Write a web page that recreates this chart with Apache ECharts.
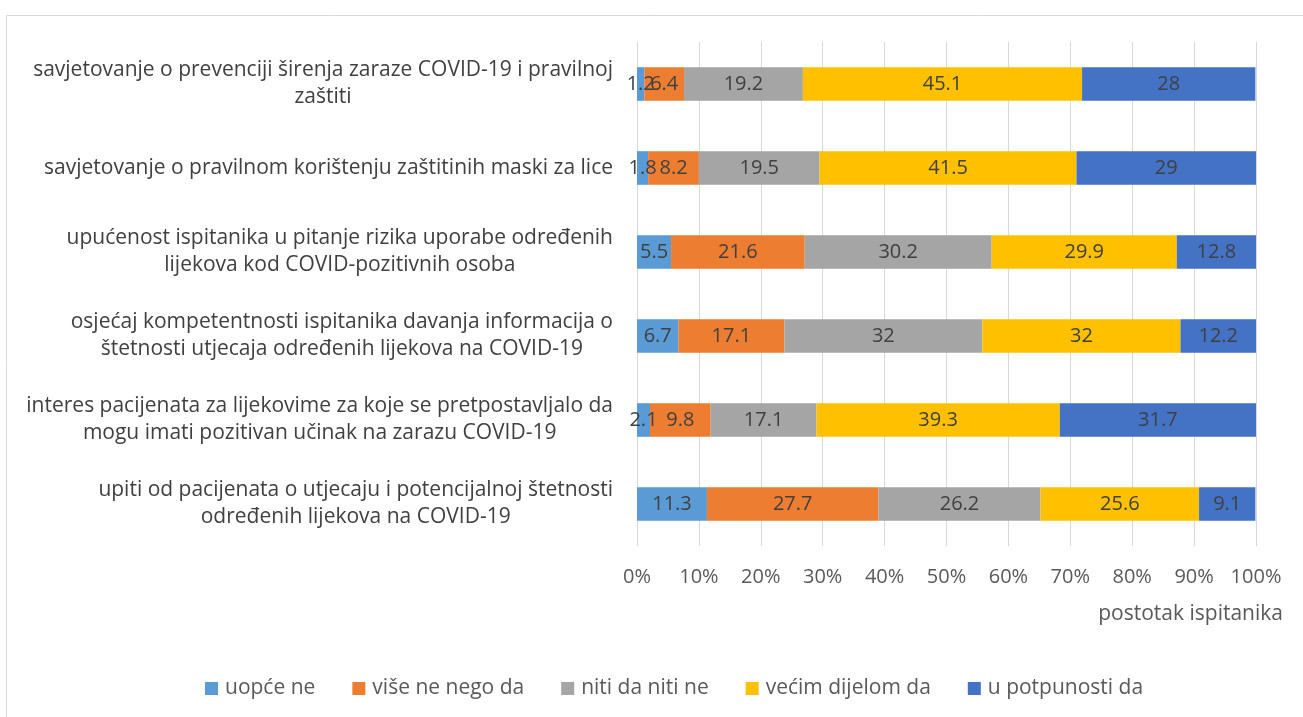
<!DOCTYPE html>
<html>
<head>
<meta charset="utf-8">
<script src="https://cdn.jsdelivr.net/npm/echarts@6/dist/echarts.min.js"></script>
<style>
  html, body { margin: 0; padding: 0; background: #fff; }
  #chart { width: 1303px; height: 717px; }
</style>
</head>
<body>
<div id="chart"></div>
<script>
// kategorije odozgo prema dolje
const categories = [
  'savjetovanje o prevenciji širenja zaraze COVID-19 i pravilnoj\nzaštiti',
  'savjetovanje o pravilnom korištenju zaštitinih maski za lice',
  'upućenost ispitanika u pitanje rizika uporabe određenih\nlijekova kod COVID-pozitivnih osoba',
  'osjećaj kompetentnosti ispitanika davanja informacija o\nštetnosti utjecaja određenih lijekova na COVID-19',
  'interes pacijenata za lijekovime za koje se pretpostavljalo da\nmogu imati pozitivan učinak na zarazu COVID-19',
  'upiti od pacijenata o utjecaju i potencijalnoj štetnosti\nodređenih lijekova na COVID-19'
];
const seriesNames = ['uopće ne', 'više ne nego da', 'niti da niti ne', 'većim dijelom da', 'u potpunosti da'];
const uopceNe = [1.2, 1.8, 5.5, 6.7, 2.1, 11.3];
const viseNeNegoDa = [6.4, 8.2, 21.6, 17.1, 9.8, 27.7];
const nitiDaNitiNe = [19.2, 19.5, 30.2, 32, 17.1, 26.2];
const vecimDijelomDa = [45.1, 41.5, 29.9, 32, 39.3, 25.6];
const uPotpunostiDa = [28, 29, 12.8, 12.2, 31.7, 9.1];
const xTicks = [0, 10, 20, 30, 40, 50, 60, 70, 80, 90, 100];

const colors = ['#5B9BD5', '#ED7D31', '#A5A5A5', '#FFC000', '#4472C4'];
const font = '"Open Sans", "Noto Sans", sans-serif';
const values = [uopceNe, viseNeNegoDa, nitiDaNitiNe, vecimDijelomDa, uPotpunostiDa];

const chart = echarts.init(document.getElementById('chart'));

const option = {
  color: colors,
  animation: false,
  textStyle: { fontFamily: font },
  graphic: [{
    type: 'rect',
    left: 4,
    top: 13,
    shape: { width: 1330, height: 740 },
    style: { fill: 'none', stroke: '#d9d9d9', lineWidth: 1 },
    silent: true
  }],
  grid: { left: 637, right: 47, top: 42, bottom: 171 },
  legend: {
    bottom: 13,
    left: 200,
    itemWidth: 13,
    itemHeight: 13,
    itemGap: 37,
    icon: 'rect',
    textStyle: { fontSize: 21, color: '#595959', fontFamily: font, padding: [0, 0, 0, 2] },
    data: seriesNames
  },
  xAxis: {
    type: 'value',
    min: 0,
    max: 100,
    interval: 10,
    axisLine: { show: false },
    axisTick: { show: false },
    splitLine: { lineStyle: { color: '#d9d9d9', width: 1 } },
    axisLabel: {
      margin: 21,
      fontSize: 20,
      color: '#595959',
      formatter: function (v) { return xTicks.indexOf(v) >= 0 ? v + '%' : ''; }
    },
    name: 'postotak ispitanika',
    nameLocation: 'end',
    nameGap: 27,
    nameTextStyle: {
      fontSize: 21,
      color: '#595959',
      align: 'right',
      verticalAlign: 'top',
      padding: [58, 0, 0, 0]
    }
  },
  yAxis: {
    type: 'category',
    inverse: true,
    data: categories,
    axisLine: { show: false },
    axisTick: { show: false },
    axisLabel: {
      margin: 24,
      fontSize: 21,
      color: '#404040',
      lineHeight: 27,
      formatter: function (v) {
        return v.split('\n').map(function (l) { return '{c|' + l + '}'; }).join('\n');
      },
      rich: {
        c: { align: 'center', fontSize: 21, color: '#404040', lineHeight: 27, fontFamily: font }
      }
    }
  },
  series: seriesNames.map(function (name, i) {
    return {
      name: name,
      type: 'bar',
      stack: 'total',
      barWidth: '40%',
      data: values[i],
      label: {
        show: true,
        position: 'inside',
        fontSize: 20,
        color: '#404040',
        fontFamily: font
      }
    };
  })
};

chart.setOption(option);
</script>
</body>
</html>
